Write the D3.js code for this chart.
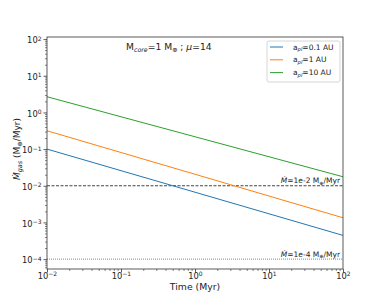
<!DOCTYPE html>
<html>
<head>
  <meta charset="utf-8">
  <script src="https://d3js.org/d3.v7.min.js"></script>
  <style>
    body { margin: 0; background: #fff; }
    text { font-family: "DejaVu Sans", sans-serif; fill: #222; }
  </style>
</head>
<body>
<script>
  // time grid (Myr) and accretion rates (M_earth/Myr)
  var times = [0.01, 0.1, 1, 10, 100];
  var rate01 = [0.1, 0.0258, 0.00667, 0.00172, 0.000443];
  var rate1 = [0.316, 0.0807, 0.0206, 0.00525, 0.00134];
  var rate10 = [2.68, 0.762, 0.217, 0.0618, 0.0176];
  var seriesNames = ["0.1 AU", "1 AU", "10 AU"];
  var seriesColors = ["#1f77b4", "#ff7f0e", "#2ca02c"];
  var refRates = [1e-2, 1e-4];
  var refLabels = ["1e-2", "1e-4"];
  var xTickExp = [-2, -1, 0, 1, 2];
  var yTickExp = [-4, -3, -2, -1, 0, 1, 2];

  var W = 382, H = 303;
  var pL = 47, pR = 343, pT = 37, pB = 269;

  var svg = d3.select("body").append("svg")
    .attr("width", W).attr("height", H);

  var x = d3.scaleLog().domain([0.01, 100]).range([pL, pR]);
  var y = d3.scaleLog().domain([Math.pow(10, -4.27), Math.pow(10, 2.057)]).range([pB, pT]);

  function minors(lo, hi) {
    var out = [];
    for (var e = lo; e <= hi; e++)
      for (var k = 2; k <= 9; k++) out.push(k * Math.pow(10, e));
    return out;
  }

  function powLabel(sel, exps) {
    sel.each(function(d, i) {
      var t = d3.select(this).text(null);
      t.append("tspan").text("10");
      t.append("tspan").attr("dy", "-0.45em").style("font-size", "6px")
        .text(String(exps[i]).replace("-", "\u2212"));
    });
  }

  // minor ticks
  var xm = minors(-2, 1).filter(function(v) { return v < 100; });
  svg.append("g").attr("transform", "translate(0," + pB + ")")
    .call(d3.axisBottom(x).tickValues(xm).tickSize(2).tickFormat(""))
    .call(function(g) { g.select(".domain").remove(); g.selectAll("line").attr("stroke", "#333").attr("stroke-width", 0.6); });
  var ym = minors(-5, 2).filter(function(v) { return v > y.domain()[0] && v < y.domain()[1]; });
  svg.append("g").attr("transform", "translate(" + pL + ",0)")
    .call(d3.axisLeft(y).tickValues(ym).tickSize(2).tickFormat(""))
    .call(function(g) { g.select(".domain").remove(); g.selectAll("line").attr("stroke", "#333").attr("stroke-width", 0.6); });

  // major ticks
  var gx = svg.append("g").attr("transform", "translate(0," + pB + ")")
    .call(d3.axisBottom(x).tickValues(xTickExp.map(function(e) { return Math.pow(10, e); })).tickSize(3.5).tickPadding(2));
  gx.select(".domain").remove();
  gx.selectAll("line").attr("stroke", "#333").attr("stroke-width", 0.8);
  gx.selectAll("text").style("font-size", "8.3px").attr("dy", "0.55em").call(powLabel, xTickExp);

  var gy = svg.append("g").attr("transform", "translate(" + pL + ",0)")
    .call(d3.axisLeft(y).tickValues(yTickExp.map(function(e) { return Math.pow(10, e); })).tickSize(3.5).tickPadding(2));
  gy.select(".domain").remove();
  gy.selectAll("line").attr("stroke", "#333").attr("stroke-width", 0.8);
  gy.selectAll("text").style("font-size", "8.3px").attr("dy", "0.45em").call(powLabel, yTickExp);

  // reference rates
  svg.selectAll(".ref").data(refRates).enter().append("line")
    .attr("x1", pL).attr("x2", pR)
    .attr("y1", function(d) { return y(d); }).attr("y2", function(d) { return y(d); })
    .attr("stroke", function(d, i) { return i ? "#888" : "#444"; })
    .attr("stroke-width", 1)
    .attr("stroke-dasharray", function(d, i) { return i ? "1,1" : "3,1.5"; });

  svg.selectAll(".reflab").data(refRates).enter().append("text")
    .attr("x", 340).attr("y", function(d) { return y(d) - 2.5; })
    .attr("text-anchor", "end").style("font-size", "7.5px")
    .each(function(d, i) {
      var t = d3.select(this);
      t.append("tspan").style("font-style", "italic").text("\u1E40");
      t.append("tspan").text("=" + refLabels[i] + " M");
      t.append("tspan").attr("dy", "1.5").style("font-size", "5px").text("\u2295");
      t.append("tspan").attr("dy", "-1.5").text("/Myr");
    });

  // curves
  var line = d3.line().x(function(d) { return x(d[0]); }).y(function(d) { return y(d[1]); });
  [rate01, rate1, rate10].forEach(function(r, i) {
    svg.append("path")
      .datum(times.map(function(t, j) { return [t, r[j]]; }))
      .attr("d", line).attr("fill", "none")
      .attr("stroke", seriesColors[i]).attr("stroke-width", 1);
  });

  // frame
  svg.append("rect").attr("x", pL).attr("y", pT)
    .attr("width", pR - pL).attr("height", pB - pT)
    .attr("fill", "none").attr("stroke", "#333").attr("stroke-width", 0.8);

  // annotation
  var ann = svg.append("text").attr("x", 126).attr("y", 50).style("font-size", "9.2px");
  ann.append("tspan").text("M");
  ann.append("tspan").attr("dy", "2").style("font-size", "6.3px").style("font-style", "italic").text("core");
  ann.append("tspan").attr("dy", "-2").text("=1 M");
  ann.append("tspan").attr("dy", "2").style("font-size", "6.3px").text("\u2295");
  ann.append("tspan").attr("dy", "-2").text(" ; ");
  ann.append("tspan").style("font-style", "italic").text("\u03bc");
  ann.append("tspan").text("=14");

  // legend
  var lg = svg.append("g");
  lg.append("rect").attr("x", 267).attr("y", 41).attr("width", 73).attr("height", 41)
    .attr("rx", 2).attr("fill", "#fff").attr("stroke", "#ccc").attr("stroke-width", 0.8);
  seriesNames.forEach(function(n, i) {
    var yy = 47 + i * 12.8;
    lg.append("line").attr("x1", 270).attr("x2", 283).attr("y1", yy).attr("y2", yy)
      .attr("stroke", seriesColors[i]).attr("stroke-width", 1);
    var t = lg.append("text").attr("x", 293).attr("y", yy + 2.5).style("font-size", "7.5px");
    t.append("tspan").text("a");
    t.append("tspan").attr("dy", "1.5").style("font-size", "5.2px").style("font-style", "italic").text("pl");
    t.append("tspan").attr("dy", "-1.5").text("=" + n);
  });

  // axis labels
  svg.append("text").attr("x", 195).attr("y", 289.5)
    .attr("text-anchor", "middle").style("font-size", "9.3px").text("Time (Myr)");

  var yl = svg.append("text").attr("transform", "translate(20,149) rotate(-90)")
    .attr("text-anchor", "middle").style("font-size", "9px");
  yl.append("tspan").style("font-style", "italic").text("\u1E40");
  yl.append("tspan").attr("dy", "2").style("font-size", "6.5px").style("font-style", "italic").text("gas");
  yl.append("tspan").attr("dy", "-2").text(" (M");
  yl.append("tspan").attr("dy", "2").style("font-size", "6.5px").text("\u2295");
  yl.append("tspan").attr("dy", "-2").text("/Myr)");
</script>
</body>
</html>
